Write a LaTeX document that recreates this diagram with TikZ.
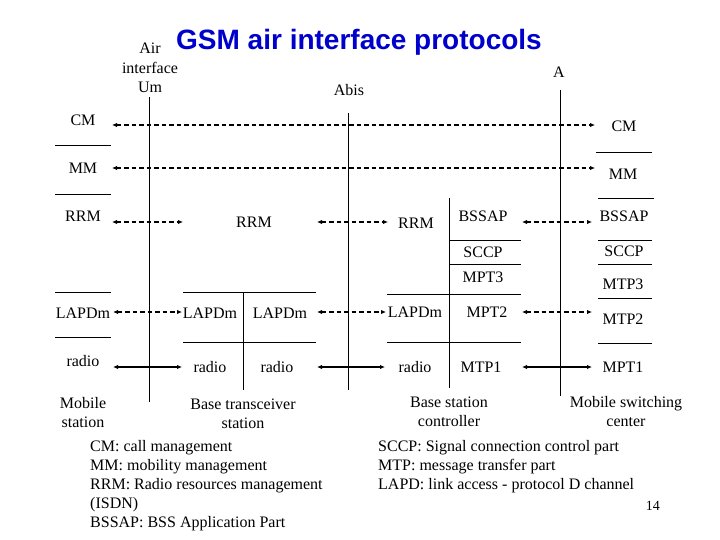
\documentclass[tikz,border=0pt]{standalone}
\usepackage{fontspec}
\setmainfont{Liberation Serif}
\newfontfamily\titlefont{Liberation Sans}
\usetikzlibrary{arrows.meta}
\definecolor{titleblue}{RGB}{0,0,204}
\begin{document}
\begin{tikzpicture}[x=1pt,y=-1pt,
  lbl/.style={font=\fontsize{16}{19}\selectfont, inner sep=0pt, anchor=base, align=center},
  leg/.style={font=\fontsize{16}{19}\selectfont, inner sep=0pt, anchor=base west},
  darr/.style={{Latex[length=5pt,width=4.5pt]}-{Latex[length=5pt,width=4.5pt]}, line width=1.5pt, dash pattern=on 4.5pt off 3pt},
  sarr/.style={{Latex[length=5pt,width=4.5pt]}-{Latex[length=5pt,width=4.5pt]}, line width=1.5pt},
  rule/.style={line width=0.9pt},
  iface/.style={line width=0.9pt}]
\useasboundingbox (0,0) rectangle (720,540);
\fill[white] (0,0) rectangle (720,540);

% title
\node[inner sep=0pt, anchor=base, font=\titlefont\bfseries\fontsize{28}{32}\selectfont, text=titleblue] (title) at (359,50) {GSM air interface protocols};

% interface labels
\node[lbl] (air) at (150,54) {Air};
\node[lbl] (airb) at (150,74) {interface};
\node[lbl] (um) at (150,93) {Um};
\node[lbl] (abis) at (349,96) {Abis};
\node[lbl] (aif) at (559,78) {A};

% interface lines
\coordinate (umT) at (149,97);  \coordinate (umB) at (149,402);
\coordinate (abT) at (348,113); \coordinate (abB) at (348,390);
\coordinate (aT) at (560,90);   \coordinate (aB) at (560,396);
\draw[iface] (umT) -- (umB);
\draw[iface] (abT) -- (abB);
\draw[iface] (aT) -- (aB);

% Mobile station stack
\node[lbl] (msCM) at (83,126) {CM};
\node[lbl] (msMM) at (83,174) {MM};
\node[lbl] (msRRM) at (83,222) {RRM};
\node[lbl] (msLAP) at (83,318) {LAPDm};
\node[lbl] (msRad) at (83,366) {radio};
\node[lbl] (msName) at (83,427) {Mobile\\station};
\draw[rule] (55,145) -- (111,145);
\draw[rule] (55,194) -- (111,194);
\draw[rule] (55,292) -- (111,292);
\draw[rule] (55,337) -- (111,337);

% BTS stack
\node[lbl] (btsRRM) at (254,228) {RRM};
\node[lbl] (btsLAP1) at (210,318) {LAPDm};
\node[lbl] (btsLAP2) at (280,318) {LAPDm};
\node[lbl] (btsRad1) at (210,372) {radio};
\node[lbl] (btsRad2) at (277,372) {radio};
\node[lbl] (btsName) at (243,428) {Base transceiver\\station};
\draw[rule] (183,292) -- (316,292);
\draw[rule] (183,342) -- (316,342);
\draw[rule] (243,292) -- (243,390);

% BSC stack
\node[lbl] (bscRRM) at (416,229) {RRM};
\node[lbl] (bscBSSAP) at (483,222) {BSSAP};
\node[lbl] (bscSCCP) at (483,258) {SCCP};
\node[lbl] (bscMPT3) at (483,282) {MPT3};
\node[lbl] (bscLAP) at (415,317) {LAPDm};
\node[lbl] (bscMPT2) at (487,317) {MPT2};
\node[lbl] (bscRad) at (415,372) {radio};
\node[lbl] (bscMTP1) at (481,372) {MTP1};
\node[lbl] (bscName) at (449,426) {Base station\\controller};
\draw[rule] (449,198) -- (449,388);
\draw[rule] (449,240) -- (521,240);
\draw[rule] (449,264) -- (521,264);
\draw[rule] (387,294) -- (521,294);
\draw[rule] (387,342) -- (521,342);

% MSC stack
\node[lbl] (mscCM) at (624,132) {CM};
\node[lbl] (mscMM) at (623,180) {MM};
\node[lbl] (mscBSSAP) at (624,222) {BSSAP};
\node[lbl] (mscSCCP) at (624,256) {SCCP};
\node[lbl] (mscMTP3) at (623,289) {MTP3};
\node[lbl] (mscMTP2) at (623,324) {MTP2};
\node[lbl] (mscMPT1) at (623,372) {MPT1};
\node[lbl] (mscName) at (626,426) {Mobile switching\\center};
\draw[rule] (596,152) -- (652,152);
\draw[rule] (598,198) -- (654,198);
\draw[rule] (598,240) -- (652,240);
\draw[rule] (598,264) -- (652,264);
\draw[rule] (598,298) -- (652,298);
\draw[rule] (598,343) -- (652,343);

% peer-to-peer arrows
\coordinate (cmL) at (112,125);  \coordinate (cmR) at (595,125);
\coordinate (mmL) at (112,168);  \coordinate (mmR) at (595,168);
\coordinate (rrL) at (112,222);  \coordinate (rrM1) at (183,222);
\coordinate (rrM2) at (317,222); \coordinate (rrR) at (388,222);
\coordinate (bsL) at (522,222);  \coordinate (bsR) at (592,222);
\coordinate (lpL) at (113,312);  \coordinate (lpM1) at (182,312);
\coordinate (lpM2) at (317,312); \coordinate (lpR) at (386,312);
\coordinate (m2L) at (522,312);  \coordinate (m2R) at (592,312);
\coordinate (raL) at (113,367);  \coordinate (raM1) at (182,367);
\coordinate (raM2) at (317,367); \coordinate (raR) at (385,367);
\coordinate (m1L) at (522,367);  \coordinate (m1R) at (592,367);
\draw[darr] (cmL) -- (cmR);
\draw[darr] (mmL) -- (mmR);
\draw[darr] (rrL) -- (rrM1);
\draw[darr] (rrM2) -- (rrR);
\draw[darr] (bsL) -- (bsR);
\draw[darr] (lpL) -- (lpM1);
\draw[darr] (lpM2) -- (lpR);
\draw[darr] (m2L) -- (m2R);
\draw[sarr] (raL) -- (raM1);
\draw[sarr] (raM2) -- (raR);
\draw[sarr] (m1L) -- (m1R);

% legend
\node[leg] (l1) at (90,451) {CM: call management};
\node[leg] (l2) at (90,470) {MM: mobility management};
\node[leg] (l3) at (90,489) {RRM: Radio resources management};
\node[leg] (l4) at (90,508) {(ISDN)};
\node[leg] (l5) at (90,527) {BSSAP: BSS Application Part};
\node[leg] (r1) at (378,451) {SCCP: Signal connection control part};
\node[leg] (r2) at (378,470) {MTP: message transfer part};
\node[leg] (r3) at (378,489) {LAPD: link access - protocol D channel};
\node[inner sep=0pt, anchor=base east, font=\fontsize{14}{16}\selectfont] (pg) at (660,510) {14};
\end{tikzpicture}
\end{document}
